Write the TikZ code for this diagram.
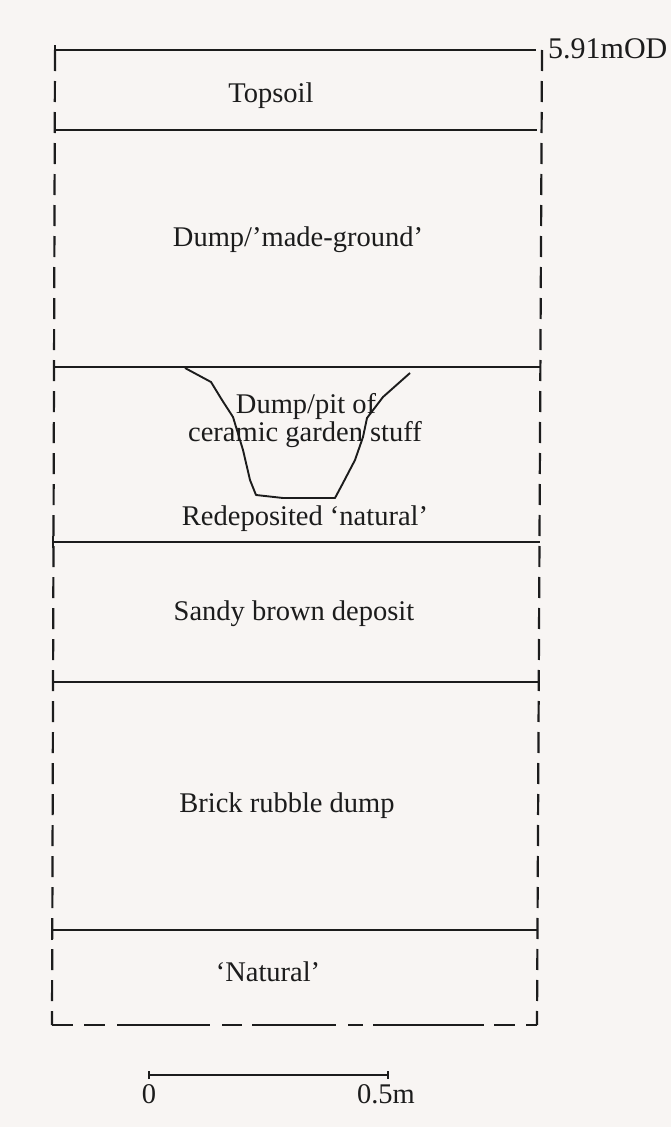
\documentclass[tikz,border=0pt]{standalone}
\usepackage{fontspec}
\setmainfont{Liberation Serif}
\usetikzlibrary{arrows.meta}
\definecolor{paper}{RGB}{248,245,243}
\definecolor{ink}{RGB}{28,28,28}
\tikzset{
  layer/.style={draw=ink, line width=1.8pt},
  side/.style={draw=ink, line width=2.2pt, dash pattern=on 21pt off 10pt},
  base/.style={draw=ink, line width=2.2pt,
    dash pattern=on 21pt off 11pt on 21pt off 12pt on 93pt off 12pt on 20pt off 10pt
                 on 84pt off 12pt on 15pt off 10pt on 111pt off 10pt on 21pt off 11pt on 40pt off 10pt},
  cut/.style={draw=ink, line width=1.9pt, line join=round},
  lbl/.style={font=\fontsize{28.5}{32}\selectfont, text=ink, inner sep=0pt},
  datum/.style={font=\fontsize{30}{34}\selectfont, text=ink, inner sep=0pt},
  tick/.style={draw=ink, line width=1.8pt}
}
\begin{document}
\begin{tikzpicture}[x=1pt,y=-1pt]
  \fill[paper] (0,0) rectangle (671,1127);
  \useasboundingbox (0,0) rectangle (671,1127);

  % section frame corners
  \coordinate (tl) at (55,50);
  \coordinate (tr) at (542,50);
  \coordinate (bl) at (52,1025);
  \coordinate (br) at (537,1025);

  % sides and base of the section
  \draw[side] (tl) -- (bl);
  \draw[side] (tr) -- (br);
  \draw[base] (bl) -- (br);

  % layer boundaries
  \coordinate (l0a) at (55,50);   \coordinate (l0b) at (536,50);
  \coordinate (l1a) at (55,130);  \coordinate (l1b) at (537,130);
  \coordinate (l2a) at (54,367);  \coordinate (l2b) at (540,367);
  \coordinate (l3a) at (53,542);  \coordinate (l3b) at (540,542);
  \coordinate (l4a) at (53,682);  \coordinate (l4b) at (538,682);
  \coordinate (l5a) at (52,930);  \coordinate (l5b) at (537,930);
  \draw[layer] (l0a) -- (l0b);
  \draw[layer] (l1a) -- (l1b);
  \draw[layer] (l2a) -- (l2b);
  \draw[layer] (l3a) -- (l3b);
  \draw[layer] (l4a) -- (l4b);
  \draw[layer] (l5a) -- (l5b);
  \draw[tick] ([yshift=-5pt]l0a) -- ([yshift=5pt]l0a);
  \draw[tick] ([yshift=-6pt]l2a) -- ([yshift=6pt]l2a);
  \draw[tick] ([yshift=-6pt]l3a) -- ([yshift=6pt]l3a);
  \draw[tick] ([yshift=-6pt]l4a) -- ([yshift=6pt]l4a);
  \draw[tick] ([yshift=-10pt]l5a) -- ([yshift=10pt]l5a);

  % height datum
  \node[datum, anchor=west] (od) at (548,49) {5.91mOD};

  % pit cut into the redeposited natural
  \draw[cut] (185,368) -- (211,382) -- (222,400) -- (233,417) -- (243,450)
    -- (250,480) -- (256,495) -- (283,498) -- (335,498) -- (343,483)
    -- (355,460) -- (363,437) -- (367,418) -- (383,397) -- (410,373);

  % layer descriptions
  \node[lbl] (topsoil) at (271,96) {Topsoil};
  \node[lbl] (made) at (298,240) {Dump/’made-ground’};
  \node[lbl] (pit1) at (306,406) {Dump/pit of};
  \node[lbl] (pit2) at (305,435) {ceramic garden stuff};
  \node[lbl] (redep) at (305,519) {Redeposited ‘natural’};
  \node[lbl] (sandy) at (294,614) {Sandy brown deposit};
  \node[lbl] (brick) at (287,806) {Brick rubble dump};
  \node[lbl] (nat) at (268,972) {‘Natural’};

  % scale bar
  \coordinate (s0) at (148,1075);
  \coordinate (s1) at (389,1075);
  \draw[layer, {Bar[width=8pt,line width=1.8pt]}-{Bar[width=8pt,line width=1.8pt]}] (s0) -- (s1);
  \node[lbl, anchor=north] (zero) at (149,1084) {0};
  \node[lbl, anchor=north] (half) at (386,1084) {0.5m};
\end{tikzpicture}
\end{document}
